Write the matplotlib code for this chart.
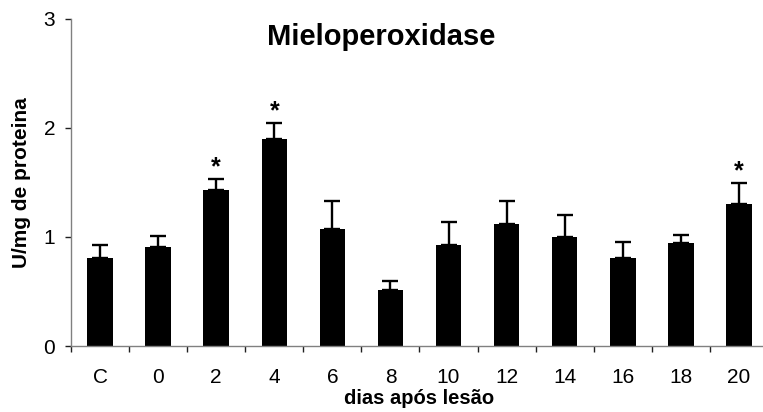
import matplotlib
matplotlib.use("Agg")
import matplotlib.pyplot as plt
import numpy as np

plt.rcParams['font.family'] = ['Liberation Sans', 'DejaVu Sans']

categories = ["C", "0", "2", "4", "6", "8", "10", "12", "14", "16", "18", "20"]
means = [0.81, 0.905, 1.43, 1.90, 1.07, 0.515, 0.93, 1.12, 1.00, 0.81, 0.94, 1.30]
sem = [0.12, 0.10, 0.10, 0.145, 0.26, 0.08, 0.21, 0.205, 0.20, 0.145, 0.075, 0.19]
significant = [False, False, True, True, False, False, False, False, False, False, False, True]
yticks = [0, 1, 2, 3]

W, H = 763, 412
fig = plt.figure(figsize=(W / 100, H / 100), dpi=100)
ax_l, ax_r, ax_t, ax_b = 71, 768, 18.7, 346
ax = fig.add_axes([ax_l / W, 1 - ax_b / H, (ax_r - ax_l) / W, (ax_b - ax_t) / H])

x = np.arange(len(categories))
ax.bar(x, means, width=0.44, color='black', zorder=2)
ax.errorbar(x, means, yerr=[np.zeros(len(sem)), sem], fmt='none', ecolor='black',
            elinewidth=1.7, capsize=5.5, capthick=1.7, zorder=3)

for xi, m, s, sig in zip(x, means, sem, significant):
    if sig:
        ax.text(xi, m + s + 0.045, "*", ha='center', va='baseline', fontsize=18,
                fontweight='bold', color='black')

ax.set_xlim(-0.5, len(categories) - 0.5)
ax.set_ylim(0, 3)
ax.set_yticks(yticks)
ax.set_yticklabels([str(t) for t in yticks], fontsize=15)
ax.set_xticks(x)
ax.set_xticklabels(categories, fontsize=15)
ax.set_xticks(np.arange(-0.5, len(categories), 1.0), minor=True)
ax.tick_params(axis='x', which='major', length=0, pad=16)
ax.tick_params(axis='x', which='minor', length=4.5, width=1, color='#202020', direction='out')
ax.tick_params(axis='y', which='major', length=4.5, width=1, color='#202020', direction='out', pad=7)

for side in ['top', 'right']:
    ax.spines[side].set_visible(False)
for side in ['left', 'bottom']:
    ax.spines[side].set_color('#808080')
    ax.spines[side].set_linewidth(1.0)

ax.set_ylabel("U/mg de proteina", fontsize=15, fontweight='bold', va='center')
ax.yaxis.set_label_coords((21 - ax_l) / (ax_r - ax_l), 0.5)
ax.set_xlabel("dias após lesão", fontsize=14.5, fontweight='bold', va='center')
ax.xaxis.set_label_coords(0.5, -(399 - ax_b) / (ax_b - ax_t))

fig.text(381 / W, 1 - 37 / H, "Mieloperoxidase", ha='center', va='center',
         fontsize=21, fontweight='bold')

fig.savefig("out.png", dpi=100)
